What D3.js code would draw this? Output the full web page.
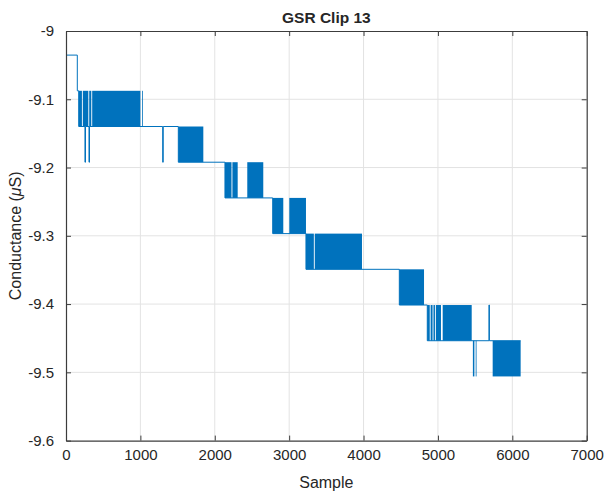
<!DOCTYPE html>
<html>
<head>
<meta charset="utf-8">
<script src="https://cdn.jsdelivr.net/npm/d3@7/dist/d3.min.js"></script>
<style>
  html, body { margin: 0; padding: 0; background: #fff; }
  svg { display: block; }
  text { font-family: "Liberation Sans", Arial, Helvetica, sans-serif; fill: #262626; }
</style>
</head>
<body>
<svg id="chart" width="604" height="491"></svg>
<script>
// ---- Data ----
const title = "GSR Clip 13";
const xLabel = "Sample";
// quantised conductance levels (µS)
const levels = [-9.0353, -9.0876, -9.1399, -9.1922, -9.2445, -9.2968, -9.3491, -9.4014, -9.4537, -9.506];

// piecewise-constant trace: sample where value changes, level index from then on
const stepSample = [0, 152, 171, 255, 262, 309, 316, 1300, 1307, 1510, 2137, 2779, 3226, 4481, 4857, 5686, 5692, 6112];
const stepLevel  = [0,   1,   2,   3,   2,   3,   2,    3,    2,    3,    4,    5,    6,    7,    8,    7,    8,    8];

// dense toggling between two adjacent levels (appear as solid blocks)
const bandStart = [171, 226, 312, 352, 1022, 1510, 2137, 2237, 2437, 2779, 3002, 3226, 3344, 4481, 4857, 4902, 4940, 4972, 5064, 5470, 5508, 5736];
const bandEnd   = [214, 300, 340, 1000, 1031, 1846, 2225, 2308, 2652, 2921, 3226, 3332, 3979, 4813, 4890, 4928, 4960, 5041, 5454, 5490, 5516, 6112];
const bandHigh  = [1,   1,   1,   1,    1,    2,    3,    3,    3,    4,    4,    5,    5,    6,    7,    7,    7,    7,    7,    8,    8,    8];
const bandLow   = [2,   2,   2,   2,    2,    3,    4,    4,    4,    5,    5,    6,    6,    7,    8,    8,    8,    8,    8,    9,    9,    9];

const xTicks = [0, 1000, 2000, 3000, 4000, 5000, 6000, 7000];
const xTickLabels = ["0", "1000", "2000", "3000", "4000", "5000", "6000", "7000"];
const yTicks = [-9, -9.1, -9.2, -9.3, -9.4, -9.5, -9.6];
const yTickLabels = ["-9", "-9.1", "-9.2", "-9.3", "-9.4", "-9.5", "-9.6"];

// ---- Layout ----
const L = 66, R = 586.7, T = 31, B = 440.6;
const color = "#0072BD";
const svg = d3.select("#chart");

const x = d3.scaleLinear().domain([0, 7000]).range([L, R]);
const y = d3.scaleLinear().domain([-9.6, -9]).range([B, T]);

// grid
const grid = svg.append("g");
grid.selectAll("line.gx").data(xTicks.slice(1, -1)).enter().append("line")
  .attr("x1", d => x(d)).attr("x2", d => x(d)).attr("y1", T).attr("y2", B)
  .attr("stroke", "#e3e3e3").attr("stroke-width", 1);
grid.selectAll("line.gy").data(yTicks.slice(1, -1)).enter().append("line")
  .attr("x1", L).attr("x2", R).attr("y1", d => y(d)).attr("y2", d => y(d))
  .attr("stroke", "#e3e3e3").attr("stroke-width", 1);

// dense bands
const bands = bandStart.map((s, i) => ({ s, e: bandEnd[i], hi: levels[bandHigh[i]], lo: levels[bandLow[i]] }));
svg.append("g").selectAll("rect").data(bands).enter().append("rect")
  .attr("x", d => x(d.s)).attr("width", d => Math.max(0.8, x(d.e) - x(d.s)))
  .attr("y", d => y(d.hi)).attr("height", d => y(d.lo) - y(d.hi))
  .attr("fill", color);

// step trace
const pts = stepSample.map((s, i) => [s, levels[stepLevel[i]]]);
const line = d3.line().x(d => x(d[0])).y(d => y(d[1])).curve(d3.curveStepAfter);
svg.append("path").datum(pts).attr("d", line)
  .attr("fill", "none").attr("stroke", color).attr("stroke-width", 1);

// axes (box with inward ticks on all sides)
const axColor = "#3c3c3c";
const axB = d3.axisBottom(x).tickValues(xTicks).tickFormat((d, i) => xTickLabels[i]).tickSizeInner(-5).tickSizeOuter(0).tickPadding(9);
const axT = d3.axisTop(x).tickValues(xTicks).tickFormat("").tickSizeInner(-5).tickSizeOuter(0);
const axLft = d3.axisLeft(y).tickValues(yTicks).tickFormat((d, i) => yTickLabels[i]).tickSizeInner(-5).tickSizeOuter(0).tickPadding(12);
const axRgt = d3.axisRight(y).tickValues(yTicks).tickFormat("").tickSizeInner(-5).tickSizeOuter(0);

function style(g) {
  g.select(".domain").attr("stroke", axColor).attr("stroke-width", 1.2);
  g.selectAll(".tick line").attr("stroke", axColor);
  g.selectAll(".tick text").attr("fill", "#262626").style("font-size", "15px")
   .style("font-family", "'Liberation Sans', Arial, sans-serif");
}
svg.append("g").attr("transform", `translate(0,${B})`).call(axB).call(style);
svg.append("g").attr("transform", `translate(0,${T})`).call(axT).call(style);
svg.append("g").attr("transform", `translate(${L},0)`).call(axLft).call(style);
svg.append("g").attr("transform", `translate(${R},0)`).call(axRgt).call(style);

// title and labels
svg.append("text").attr("x", (L + R) / 2).attr("y", 22.5).attr("text-anchor", "middle")
  .style("font-size", "15.5px").style("font-weight", "bold").attr("fill", "#000").text(title);
svg.append("text").attr("x", (L + R) / 2).attr("y", 488).attr("text-anchor", "middle")
  .style("font-size", "16px").text(xLabel);
const yl = svg.append("text").attr("transform", `translate(21,${(T + B) / 2}) rotate(-90)`)
  .attr("text-anchor", "middle").style("font-size", "16px");
yl.append("tspan").text("Conductance (");
yl.append("tspan").style("font-style", "italic").text("\u03BC");
yl.append("tspan").text("S)");
</script>
</body>
</html>
